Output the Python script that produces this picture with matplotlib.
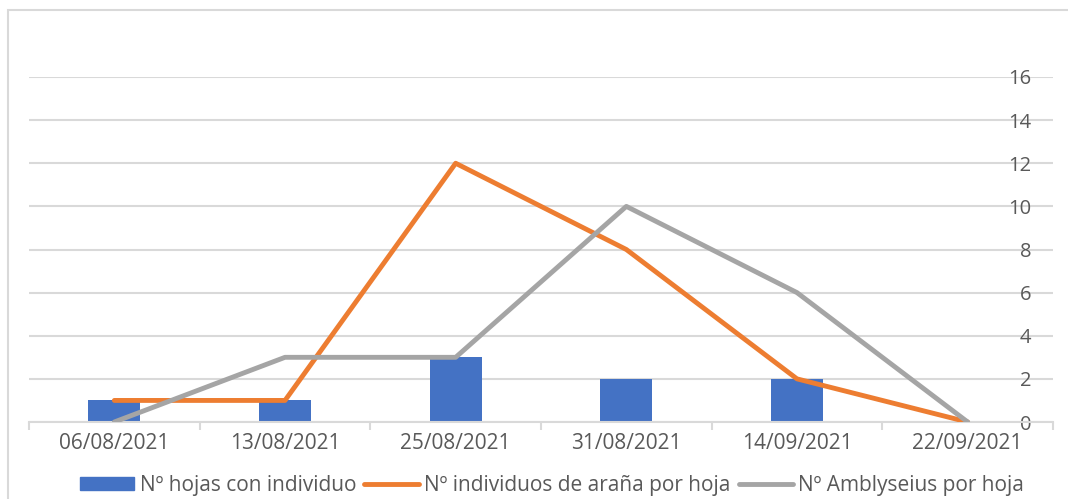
import matplotlib
matplotlib.use('Agg')
import matplotlib.pyplot as plt
from matplotlib.patches import Rectangle
from matplotlib.lines import Line2D
import numpy as np

# data
fechas = ['06/08/2021', '13/08/2021', '25/08/2021', '31/08/2021', '14/09/2021', '22/09/2021']
hojas_con_individuo = [1, 1, 3, 2, 2, 0]
individuos_arana = [1, 1, 12, 8, 2, 0]
amblyseius = [0, 3, 3, 10, 6, 0]
y_ticks = [0, 2, 4, 6, 8, 10, 12, 14, 16]

BLUE = '#4472C4'
ORANGE = '#ED7D31'
GRAY = '#A5A5A5'
GRID = '#D9D9D9'
TXT = '#595959'

plt.rcParams['font.family'] = ['Open Sans', 'DejaVu Sans']

W, H = 1068, 499
fig = plt.figure(figsize=(W / 100, H / 100), dpi=100)
ax = fig.add_axes([29 / W, 1 - 422 / H, (1053 - 29) / W, (422 - 77) / H])

x = np.arange(len(fechas))
ax.bar(x, hojas_con_individuo, width=0.305, color=BLUE, zorder=2,
       label='Nº hojas con individuo')
ax.plot(x, individuos_arana, color=ORANGE, lw=3.5, zorder=3,
        solid_capstyle='round', solid_joinstyle='round',
        label='Nº individuos de araña por hoja')
ax.plot(x, amblyseius, color=GRAY, lw=3.5, zorder=4,
        solid_capstyle='round', solid_joinstyle='round',
        label='Nº Amblyseius por hoja')

ax.set_xlim(-0.5, len(fechas) - 0.5)
ax.set_ylim(0, 16)

# y axis: labels drawn inside the plot on the right
ax.yaxis.tick_right()
ax.set_yticks(y_ticks)
ax.tick_params(axis='y', length=0, pad=-15.5, labelsize=14.5, labelcolor=TXT)
for lab in ax.get_yticklabels():
    lab.set_horizontalalignment('right')
ax.grid(axis='y', color=GRID, lw=1.5, zorder=0)

# x axis: tick marks on category boundaries, labels in the middle
ax.set_xticks(x)
ax.set_xticklabels(fechas)
ax.set_xticks(np.arange(-0.5, len(fechas)), minor=True)
ax.tick_params(axis='x', which='major', length=0, pad=8, labelsize=15, labelcolor=TXT)
ax.tick_params(axis='x', which='minor', length=6, width=1.5, color=GRID)

for s in ['top', 'left', 'right']:
    ax.spines[s].set_visible(False)
ax.spines['bottom'].set_color(GRID)
ax.spines['bottom'].set_linewidth(1.5)
ax.set_axisbelow(True)

# chart area border
fig.patches.append(Rectangle((8 / W, -0.1), 1.2, 1 - 10 / H + 0.1,
                             transform=fig.transFigure, fill=False,
                             edgecolor=GRID, lw=1.5))

handles = [Rectangle((0, 0), 1, 1, color=BLUE),
           Line2D([], [], color=ORANGE, lw=3.5, solid_capstyle='round'),
           Line2D([], [], color=GRAY, lw=3.5, solid_capstyle='round')]
labels = ['Nº hojas con individuo', 'Nº individuos de araña por hoja',
          'Nº Amblyseius por hoja']
leg = fig.legend(handles, labels, loc='center', bbox_to_anchor=(552 / W, 1 - 485 / H),
                 ncol=3, frameon=False, fontsize=15, handlelength=2.6,
                 handleheight=0.6, handletextpad=0.25, columnspacing=0.4,
                 labelcolor=TXT)

fig.savefig('out.png', dpi=100)
